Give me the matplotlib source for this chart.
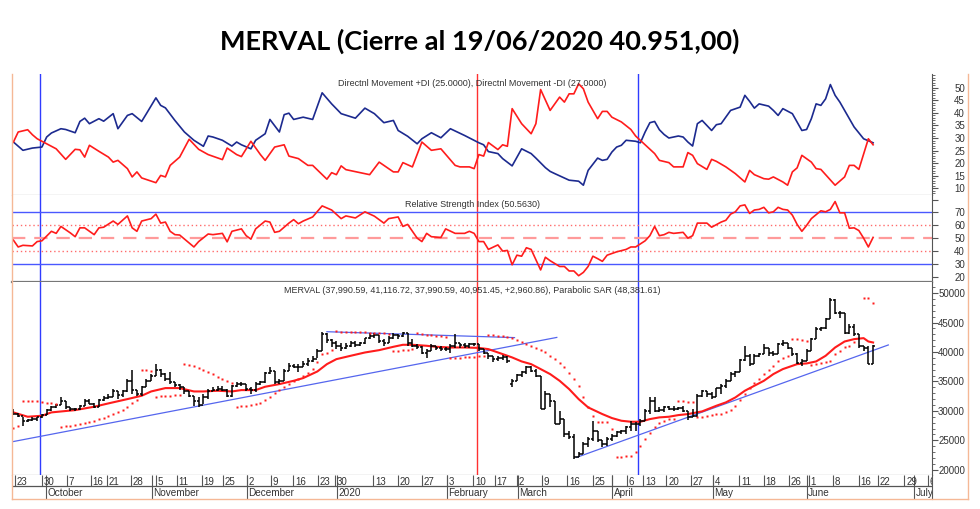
import numpy as np
import matplotlib
matplotlib.use("Agg")
import matplotlib.pyplot as plt
from matplotlib.lines import Line2D
from matplotlib.ticker import MultipleLocator

plt.rcParams['font.family'] = ['Liberation Sans', 'DejaVu Sans']

# ---------------- texts ----------------
title = "MERVAL (Cierre al 19/06/2020 40.951,00)"
di_label = "Directnl Movement +DI (25.0000), Directnl Movement -DI (27.0000)"
rsi_label = "Relative Strength Index (50.5630)"
px_label = ("MERVAL (37,990.59, 41,116.72, 37,990.59, 40,951.45, +2,960.86), "
            "Parabolic SAR (48,381.61)")

# ---------------- daily OHLC (trading-day index 0 = 20 Sep 2019 ... 181 = 19 Jun 2020) ----------------
opens = [30000, 29550, 29150, 28300, 28450, 28700, 28900, 29300, 30150, 30600,
         31050, 31700, 30600, 30300, 30250, 30850, 31700, 31250, 30700, 31850,
         32150, 32400, 33300, 32700, 33300, 35000, 33550, 32850, 34000, 35000,
         35950, 36900, 36250, 35400, 34850, 34400, 34000, 33300, 32550, 31700,
         31050, 32300, 33400, 33550, 33700, 33550, 32550, 34250, 34550, 34650,
         33700, 33550, 34550, 34850, 36350, 36800, 34850, 35100, 36700, 37650,
         37500, 37400, 37950, 38500, 38800, 40200, 43050, 42000, 41600, 41050,
         40750, 41050, 41600, 41200, 41500, 42350, 42750, 42900, 41900, 41600,
         42450, 42900, 42750, 43150, 41600, 41050, 40900, 39900, 40200, 41050,
         40600, 40500, 40500, 41050, 41450, 41200, 41050, 41350, 41350, 40500,
         39900, 39350, 38800, 39050, 39200, 34550, 35100, 36150, 36550, 37400,
         36700, 35950, 30300, 32850, 31700, 27750, 28600, 26050, 25500, 22100,
         22750, 24350, 25200, 26600, 25000, 24350, 25200, 25750, 26350, 26500,
         27200, 27750, 27850, 28300, 30000, 31700, 30000, 30150, 30600, 30400,
         30300, 30450, 30000, 28900, 29150, 32550, 33300, 32850, 32300, 33850,
         34250, 35100, 36250, 36550, 38600, 39350, 37950, 39350, 39650, 40750,
         39900, 39650, 41350, 41450, 40750, 39650, 38050, 38400, 40200, 42200,
         43900, 44050, 45600, 48800, 46700, 46550, 43300, 44300, 43050, 41050,
         40750, 37990.59]
highs = [30300, 29600, 29000, 28600, 28900, 29000, 29450, 30300, 30850, 31150,
         32300, 31750, 30600, 30450, 31050, 32000, 32000, 31300, 32000, 32550,
         32850, 33700, 33350, 33500, 35400, 36900, 33550, 34250, 35400, 36250,
         37950, 37100, 36350, 36550, 34850, 34550, 34050, 33400, 32550, 32300,
         32850, 33700, 34000, 34250, 34250, 33700, 34450, 34850, 34850, 34650,
         34000, 34850, 35100, 36550, 37400, 36800, 35400, 37100, 38050, 37900,
         37950, 38500, 38950, 39350, 40500, 43450, 43300, 42200, 41800, 41450,
         41600, 41900, 41800, 41700, 42450, 43150, 43150, 42900, 42200, 42750,
         43150, 43050, 43450, 43150, 42200, 41350, 41050, 40500, 41350, 41050,
         41050, 40900, 41350, 43050, 41600, 41450, 41600, 41600, 41350, 40500,
         39900, 39350, 39350, 39450, 39300, 35400, 36250, 36700, 37650, 37650,
         37100, 35950, 33300, 32850, 31700, 30000, 28600, 26600, 26050, 22950,
         24650, 25500, 28200, 26600, 25000, 25500, 26050, 26600, 26700, 27450,
         28300, 28050, 28600, 30300, 32300, 32300, 30600, 30850, 30800, 30850,
         30700, 30850, 30000, 30300, 32850, 33550, 33400, 33150, 33950, 34550,
         35400, 36550, 36700, 38800, 41050, 39650, 39650, 39900, 41350, 40750,
         40200, 41600, 42000, 41450, 40750, 39900, 38800, 40500, 42450, 44300,
         44300, 45850, 49150, 49000, 47000, 46700, 44750, 44750, 43050, 41050,
         41050, 41116.72]
lows = [29300, 28900, 27500, 28050, 28200, 28300, 28800, 29250, 30000, 30450,
        31050, 30300, 30000, 29900, 30200, 30850, 31150, 30450, 30700, 31700,
        32000, 32400, 32000, 32300, 33150, 32850, 32550, 32550, 34000, 35000,
        35900, 35700, 35000, 34550, 34000, 33550, 32850, 32300, 30850, 30700,
        31150, 32000, 33300, 33400, 33300, 32300, 32400, 34100, 34250, 33400,
        32850, 33150, 34450, 34800, 36250, 34550, 34550, 35100, 36700, 37300,
        36550, 37400, 37650, 38250, 38950, 40200, 41600, 40800, 40500, 40200,
        40500, 40800, 40900, 41000, 41350, 42200, 42450, 41600, 41050, 41550,
        42200, 42200, 42600, 41050, 40800, 40500, 39650, 39050, 40200, 40300,
        40200, 40200, 39900, 40750, 40750, 40750, 40750, 41050, 40200, 39650,
        38800, 38250, 38500, 38600, 38050, 34100, 35100, 35700, 36250, 36550,
        35700, 30300, 30300, 30600, 27750, 27750, 25500, 25200, 21800, 22100,
        22650, 23800, 24950, 24650, 23800, 24100, 24950, 25500, 26000, 26050,
        26600, 26600, 27450, 28300, 29450, 29750, 29750, 29750, 30100, 30000,
        30150, 29750, 28450, 28900, 28900, 32400, 32300, 32000, 32300, 32850,
        33950, 35100, 35700, 36550, 38500, 37650, 37950, 39200, 39650, 39350,
        39350, 39650, 41050, 40500, 39350, 37950, 37650, 38400, 40200, 42200,
        43600, 43900, 45600, 46450, 45850, 43050, 43050, 42750, 40750, 40200,
        37990.59, 37990.59]
closes = [29550, 29150, 28300, 28450, 28700, 28900, 29300, 30150, 30600, 31050,
          31700, 30600, 30300, 30250, 30850, 31700, 31250, 30700, 31850, 32150,
          32400, 33300, 32700, 33300, 35000, 33550, 32850, 34000, 35000, 35950,
          36900, 36250, 35400, 34850, 34400, 34000, 33300, 32550, 31700, 31050,
          32300, 33400, 33550, 33700, 33550, 32550, 34250, 34550, 34650, 33700,
          33550, 34550, 34850, 36350, 36800, 34850, 35100, 36700, 37650, 37500,
          37400, 37950, 38500, 38800, 40200, 43050, 42000, 41600, 41050, 40750,
          41050, 41600, 41200, 41500, 42350, 42750, 42900, 41900, 41600, 42450,
          42900, 42750, 43150, 41600, 41050, 40900, 39900, 40200, 41050, 40600,
          40500, 40500, 41050, 41450, 41200, 41050, 41350, 41350, 40500, 39900,
          39350, 38800, 39050, 39200, 38500, 35100, 36150, 36550, 37400, 36700,
          35950, 30300, 32850, 31700, 27750, 28600, 26050, 25500, 22100, 22750,
          24350, 25200, 26600, 25000, 24350, 25200, 25750, 26350, 26500, 27200,
          27750, 27850, 28300, 30000, 31700, 30000, 30150, 30600, 30400, 30300,
          30450, 30000, 28900, 29150, 32550, 33300, 32850, 32300, 33850, 34250,
          35100, 36250, 36550, 38600, 39350, 37950, 39350, 39650, 40750, 39900,
          39650, 41350, 41450, 40750, 39650, 38050, 38400, 40200, 42200, 43900,
          44050, 45600, 48800, 46700, 46550, 43300, 44300, 43050, 41050, 40750,
          37990.59, 40951.45]
nan = float('nan')
sar = [27150, 27450, 31750, 31700, 31650, 31600, 31500, 31400, 31300, 31200,
       27300, 27400, 27500, 27650, 27800, 28000, 28150, 28350, 28600, 28850,
       29100, 29450, 29750, 30150, 30700, 31300, 31900, 37000, 36900, 36800,
       32400, 32450, 32500, 32550, 32650, 32750, 37950, 37800, 37600, 37300,
       37000, 36600, 36200, 35800, 35400, 35050, 34800, 30700, 30800, 30870,
       31000, 31200, 31400, 31800, 32300, 33000, 33500, 34000, 34550, 35000,
       35400, 35950, 36500, 37100, 38300, 39600, 39900, 40300, 43500, 43470,
       43440, 43410, 43380, 43350, 43320, 43290, 43260, 43220, 43180, 43140,
       40200, 40250, 40300, 40400, 40450, 43150, 43050, 42950, 42850, 42750,
       42650, 42550, 38950, 39000, 39050, 39100, 39150, 39200, 39300, 39350,
       42900, 42850, 42800, 42700, 42600, 42450, 42000, 41620, 41340, 41060,
       40660, 40320, 39930, 39350, 38800, 38100, 37400, 36500, 35400, 34260,
       32300, 30600, 29200, 28050, 28050, 28050, 26900, 22100, 22150, 22250,
       22400, 22950, 24100, 25200, 26300, 27200, 27900, 28300, 28550, 28700,
       31700, 31600, 31500, 31450, 28900, 29000, 29170, 29300, 29400, 29500,
       29740, 30200, 30900, 31800, 32900, 33900, 34700, 35400, 36200, 36900,
       37600, 38400, 39000, 39400, 42150, 42150, 42050, 41900, 37770, 37890,
       38060, 38230, 38510, 39640, 40210, 40770, 41100, 41620, nan, 49250,
       49150, 48381.61]

# moving average (red line), read at sample days
ma_days = [0, 3, 6, 8, 13, 17, 20, 24, 27, 29, 32, 35, 38, 40, 43, 46, 48, 51, 53, 56,
           59, 61, 64, 66, 68, 71, 74, 77, 80, 82, 84, 87, 89, 92, 95, 98, 100, 102, 105, 107,
           109, 111, 113, 115, 117, 119, 121, 124, 126, 128, 130, 132, 134, 136, 138, 140, 142, 145, 148, 150,
           152, 154, 156, 158, 160, 162, 165, 167, 169, 171, 173, 175, 177, 179, 180, 181]
ma_vals = [29740, 29000, 29170, 29740, 30130, 30700, 31270, 32000, 32570, 33300,
           33870, 33870, 33300, 33300, 33420, 33300, 33530, 33530, 34100, 34550,
           35110, 35570, 36700, 37940, 38790, 39360, 39920, 40320, 40890, 41230,
           41230, 41060, 40890, 40770, 40770, 40700, 40490, 39930, 39080, 38400,
           37940, 37100, 36250, 35110, 33700, 32000, 30590, 29450, 28780, 28320,
           28150, 28150, 28600, 28890, 29000, 29280, 29450, 29910, 30870, 31440,
           32280, 33420, 34270, 35110, 36250, 37100, 37940, 38060, 38400, 39360,
           40770, 41790, 42190, 42360, 41790, 41620]

# Directional movement
pdi_days = [0, 2, 4, 6, 7, 8, 10, 11, 13, 14, 15, 16, 18, 19, 21, 22, 24, 25, 27, 28,
            30, 31, 32, 34, 36, 38, 40, 41, 42, 44, 46, 47, 48, 50, 51, 53, 54, 56, 57, 58,
            59, 61, 63, 65, 67, 69, 72, 74, 76, 78, 80, 81, 83, 85, 86, 88, 90, 92, 95, 98,
            99, 100, 102, 103, 105, 107, 109, 110, 112, 113, 114, 117, 119, 120, 121, 123, 124, 125, 126, 127,
            128, 129, 131, 132, 133, 134, 135, 136, 137, 138, 140, 141, 142, 143, 144, 145, 147, 148, 149, 151,
            153, 154, 155, 156, 157, 159, 160, 161, 162, 164, 166, 167, 168, 169, 170, 171, 172, 173, 174, 176,
            177, 179, 181]
pdi_vals = [28.4, 25.1, 26.0, 26.4, 30.4, 32.0, 33.7, 33.4, 32.1, 36.6,
            37.9, 35.7, 37.7, 36.7, 39.7, 33.7, 39.0, 39.7, 36.6, 39.7,
            46.0, 43.0, 42.0, 37.0, 32.4, 29.1, 26.7, 30.8, 30.4, 29.1,
            26.8, 28.4, 27.3, 25.7, 29.1, 31.7, 37.4, 32.4, 39.3, 39.9,
            37.4, 38.3, 37.4, 48.0, 43.6, 39.7, 37.9, 41.9, 39.7, 36.1,
            37.0, 33.0, 30.7, 27.7, 29.7, 32.1, 30.1, 33.7, 31.0, 28.1,
            27.3, 24.6, 23.8, 21.8, 18.9, 25.7, 23.8, 22.0, 18.2, 16.7,
            15.8, 13.2, 12.8, 11.2, 17.1, 22.0, 21.1, 21.5, 24.4, 26.4,
            27.1, 29.1, 28.7, 28.1, 32.4, 36.1, 36.6, 33.3, 31.4, 30.0,
            30.8, 30.4, 28.4, 26.8, 35.7, 37.0, 33.0, 35.3, 35.7, 41.0,
            42.3, 47.0, 44.6, 41.9, 43.6, 42.7, 41.0, 39.0, 41.7, 39.7,
            33.0, 33.4, 37.7, 43.6, 43.0, 45.6, 51.3, 47.0, 44.3, 37.7,
            34.4, 29.7, 28.1]
mdi_days = [0, 1, 3, 4, 5, 7, 9, 11, 13, 14, 15, 16, 18, 20, 21, 22, 24, 25, 26, 27,
            30, 31, 32, 33, 35, 37, 39, 41, 44, 45, 47, 48, 50, 52, 53, 55, 57, 58, 60, 62,
            63, 66, 67, 68, 69, 70, 73, 75, 77, 79, 80, 81, 82, 84, 86, 88, 90, 93, 94, 96,
            97, 98, 99, 100, 102, 103, 104, 105, 107, 109, 110, 111, 113, 115, 116, 117, 118, 119, 120, 121,
            123, 124, 125, 126, 128, 130, 131, 133, 135, 136, 138, 139, 141, 142, 143, 144, 146, 147, 148, 150,
            152, 154, 155, 156, 158, 159, 160, 162, 163, 164, 165, 166, 168, 169, 170, 173, 175, 176, 177, 178,
            180, 181]
mdi_vals = [28.4, 32.4, 33.3, 31.3, 29.7, 27.7, 25.7, 21.5, 25.5, 25.3,
            22.4, 27.1, 24.7, 22.4, 20.4, 21.1, 17.8, 14.5, 16.5, 14.1,
            12.2, 15.1, 14.5, 19.1, 22.4, 29.5, 25.5, 23.4, 21.4, 26.0,
            23.4, 22.6, 28.7, 23.4, 21.1, 26.4, 27.3, 22.8, 21.8, 19.1,
            19.1, 13.6, 16.2, 15.4, 18.9, 17.4, 16.2, 15.4, 20.4, 17.8,
            16.5, 16.5, 20.2, 18.5, 28.4, 25.1, 25.7, 19.1, 18.5, 18.5,
            17.8, 23.4, 22.8, 28.2, 25.4, 27.3, 26.7, 41.7, 35.7, 31.7,
            35.7, 49.3, 41.0, 46.3, 44.3, 47.6, 47.6, 51.6, 49.6, 44.3,
            37.7, 40.6, 40.6, 38.3, 36.4, 33.4, 30.8, 27.3, 23.8, 21.1,
            20.2, 18.5, 18.5, 24.2, 23.1, 19.8, 17.5, 21.5, 20.7, 18.5,
            15.8, 12.5, 17.1, 15.4, 13.8, 13.6, 14.5, 12.5, 11.2, 16.5,
            18.1, 23.1, 20.4, 17.8, 17.5, 11.2, 14.5, 19.1, 19.1, 17.5,
            29.7, 27.3]

# RSI
rsi_days = [0, 1, 2, 4, 5, 6, 8, 9, 10, 12, 13, 14, 15, 17, 18, 19, 21, 22, 24, 25,
            26, 27, 29, 30, 31, 32, 33, 34, 35, 38, 39, 41, 42, 44, 45, 46, 48, 49, 50, 51,
            53, 54, 55, 56, 58, 59, 60, 61, 63, 65, 67, 69, 70, 72, 74, 76, 78, 79, 81, 82,
            83, 85, 86, 87, 88, 90, 91, 93, 95, 96, 97, 98, 99, 100, 102, 103, 104, 105, 106, 107,
            108, 109, 111, 112, 113, 115, 116, 117, 118, 119, 120, 121, 122, 123, 124, 125, 127, 129, 130, 131,
            133, 134, 135, 136, 137, 138, 139, 141, 142, 143, 144, 146, 147, 149, 150, 151, 152, 153, 154, 155,
            156, 157, 158, 159, 160, 161, 162, 163, 164, 165, 166, 167, 168, 170, 171, 172, 173, 174, 175, 176,
            177, 178, 179, 180, 181]
rsi_vals = [48.4, 43.1, 44.4, 43.9, 47.3, 47.9, 55.3, 53.7, 59.1, 54.0,
            51.1, 58.0, 58.0, 52.7, 58.0, 58.5, 63.3, 60.7, 67.3, 58.0,
            55.3, 63.3, 65.2, 68.7, 61.7, 62.5, 55.3, 52.7, 52.4, 43.1,
            47.3, 53.2, 52.7, 53.7, 47.1, 55.3, 57.2, 51.9, 49.2, 57.2,
            63.3, 62.5, 54.5, 55.3, 61.7, 64.4, 61.2, 63.3, 66.5, 75.1,
            71.9, 65.2, 67.3, 65.7, 70.5, 67.1, 61.7, 65.2, 66.5, 59.1,
            60.7, 50.0, 47.3, 53.7, 51.1, 50.5, 57.2, 53.7, 53.7, 55.3,
            53.7, 47.3, 47.3, 41.2, 44.7, 39.9, 40.4, 29.2, 36.7, 35.9,
            42.5, 41.2, 25.2, 35.1, 32.4, 27.9, 27.9, 24.4, 24.4, 20.7,
            23.3, 27.9, 35.9, 34.0, 31.9, 36.7, 39.3, 41.2, 43.1, 43.1,
            47.9, 51.9, 59.1, 51.9, 52.7, 54.5, 53.7, 54.5, 50.0, 51.9,
            61.7, 61.7, 58.5, 62.5, 63.9, 68.7, 70.5, 75.1, 75.9, 69.2,
            71.9, 72.4, 74.0, 69.7, 70.5, 74.0, 72.4, 71.9, 67.9, 60.7,
            55.3, 59.9, 65.2, 71.3, 70.5, 72.4, 78.5, 69.7, 69.7, 57.7,
            58.0, 55.9, 50.0, 43.1, 50.56]

# trend lines drawn on the price panel: (day0, price0, day1, price1)
trend_lines = [(-0.25, 24750, 114.4, 42480),
               (66.0, 43450, 105.5, 42450),
               (118.6, 22100, 184.2, 41200)]
# vertical marker lines (day, colour)
event_days = [5.7, 97.6, 131.4]
event_colors = ['#2f3cff', '#ff3030', '#2f3cff']

# date axis (tick day-index, label)
day_ticks = [0.34, 6.0, 11.2, 16.3, 19.6, 24.7, 30.0, 34.4, 39.6, 44.1,
             49.1, 54.2, 58.9, 64.1, 67.7, 75.8, 80.9, 86.0, 91.2, 96.8,
             101.4, 106.1, 111.2, 116.6, 122.0, 126.1, 129.1, 132.6, 137.5, 142.6,
             147.3, 152.8, 158.0, 163.3, 167.5, 172.6, 178.0, 182.1, 187.6, 192.6]
day_labels = ['23', '30', '7', '16', '21', '28', '5', '11', '19', '25',
              '2', '9', '16', '23', '30', '13', '20', '27', '3', '10',
              '17', '2', '9', '16', '25', '', '6', '13', '20', '27',
              '4', '11', '18', '26', '1', '8', '16', '22', '29', '6']
month_ticks = [6.8, 29.1, 49.1, 68.1, 91.2, 106.2, 126.1, 147.2, 167.0, 189.7]
month_labels = ['October', 'November', 'December', '2020', 'February',
                'March', 'April', 'May', 'June', 'July']

assert len(opens) == len(highs) == len(lows) == len(closes) == len(sar) == 182
assert len(ma_days) == len(ma_vals)
assert len(pdi_days) == len(pdi_vals) and len(mdi_days) == len(mdi_vals)
assert len(rsi_days) == len(rsi_vals)

# ---------------- figure ----------------
W, H = 980, 510
fig = plt.figure(figsize=(W / 100, H / 100), dpi=100)
XL, XR = 12, 932


def rect(top, bottom):
    return [XL / W, 1 - bottom / H, (XR - XL) / W, (bottom - top) / H]


ax_di = fig.add_axes(rect(75, 196))
ax_rsi = fig.add_axes(rect(196, 283))
ax_px = fig.add_axes(rect(283, 476))
ax_dt = fig.add_axes(rect(476, 500))

xlim = (-0.3, 193.4)
days = np.arange(len(closes))
GRAY = '#555555'
TXT = '#333333'
RED = '#ff1c1c'
NAVY = '#1c2a8f'

for ax in (ax_di, ax_rsi, ax_px, ax_dt):
    ax.set_xlim(*xlim)
    ax.set_xticks([])
    ax.spines['left'].set_visible(False)
    ax.spines['right'].set_color(GRAY)
    ax.spines['top'].set_visible(False)
    ax.spines['bottom'].set_color(GRAY)
    ax.set_facecolor('white')

ax_di.spines['bottom'].set_color('#444444')

# vertical event lines
for a in (ax_di, ax_rsi, ax_px):
    for d, c in zip(event_days, event_colors):
        a.axvline(d, color=c, lw=1.0, zorder=1)


def right_axis(ax, majors, minor=None, fmt='{:d}'):
    ax.yaxis.tick_right()
    ax.set_yticks(majors)
    ax.set_yticklabels([])
    ax.tick_params(axis='y', which='major', direction='out', length=4.5,
                   width=0.8, color=GRAY)
    if minor:
        ax.yaxis.set_minor_locator(MultipleLocator(minor))
        ax.tick_params(axis='y', which='minor', direction='out', length=2.5,
                       width=0.6, color=GRAY)
    tr = ax.get_yaxis_transform()
    lo, hi = ax.get_ylim()
    for v in majors:
        if lo < v < hi:
            ax.text(1.0359, v, fmt.format(v), transform=tr, ha='right',
                    va='center', fontsize=7, color=TXT, clip_on=False)


# ---- DI panel ----
ax_di.set_ylim(7.3, 55.5)
ax_di.plot(pdi_days, pdi_vals, color=NAVY, lw=1.2, zorder=3)
ax_di.plot(mdi_days, mdi_vals, color=RED, lw=1.2, zorder=3)
right_axis(ax_di, list(range(10, 55, 5)), minor=1)
ax_di.text(0.5, 0.931, di_label, transform=ax_di.transAxes, ha='center',
           va='center', fontsize=6.5, color=TXT)

# ---- RSI panel ----
ax_rsi.set_ylim(15.8, 83.6)
ax_rsi.axhline(70, color='#4a58ff', lw=1.0, zorder=2)
ax_rsi.axhline(30, color='#4a58ff', lw=1.0, zorder=2)
ax_rsi.axhline(60, color='#ff6b6b', lw=1.0, ls=(0, (1, 2)), zorder=2)
ax_rsi.axhline(40, color='#ff6b6b', lw=1.0, ls=(0, (1, 2)), zorder=2)
ax_rsi.axhline(50, color='#ff9a9a', lw=1.6, ls=(0, (6, 4)), zorder=2)
ax_rsi.plot(rsi_days, rsi_vals, color=RED, lw=1.2, zorder=3)
right_axis(ax_rsi, list(range(20, 80, 10)))
ax_rsi.set_yticks(list(range(20, 90, 10)))
ax_rsi.set_yticklabels([])
ax_rsi.text(0.5, 0.905, rsi_label, transform=ax_rsi.transAxes, ha='center',
            va='center', fontsize=6.5, color=TXT)
ax_rsi.spines['bottom'].set_color('#777777')
ax_rsi.spines['bottom'].set_linewidth(1.6)

# ---- price panel ----
ax_px.set_ylim(19100, 51900)
for (d0, p0, d1, p1) in trend_lines:
    ax_px.plot([d0, d1], [p0, p1], color='#5566ee', lw=0.9, zorder=2)
ax_px.plot(ma_days, ma_vals, color=RED, lw=1.5, zorder=3)
ax_px.vlines(days, lows, highs, color='black', lw=1.1, zorder=4)
ax_px.hlines(opens, days - 0.45, days, color='black', lw=1.1, zorder=4)
ax_px.hlines(closes, days, days + 0.45, color='black', lw=1.1, zorder=4)
ax_px.plot(days, sar, ls='none', marker='s', ms=1.9, color=RED, mec='none',
           zorder=5)
right_axis(ax_px, list(range(20000, 55000, 5000)), minor=1000)
ax_px.text(0.5, 0.959, px_label, transform=ax_px.transAxes, ha='center',
           va='center', fontsize=6.5, color=TXT)
ax_px.spines['bottom'].set_color('#333333')

# ---- date axis ----
ax_dt.set_ylim(24, 0)
ax_dt.set_yticks([])
ax_dt.spines['bottom'].set_visible(False)
ax_dt.axhline(11, color=GRAY, lw=0.9)
for t, lab in zip(day_ticks, day_labels):
    ax_dt.vlines(t, 0, 11, color=GRAY, lw=0.8)
    if lab:
        ax_dt.text(t + 0.35, 5.8, lab, ha='left', va='center', fontsize=7,
                   color=TXT, clip_on=True)
for t, lab in zip(month_ticks, month_labels):
    ax_dt.vlines(t, 0, 24, color=GRAY, lw=0.8)
    ax_dt.text(t + 0.35, 17.5, lab, ha='left', va='center', fontsize=7.2,
               color=TXT, clip_on=True)

# ---- outer frame (light orange) ----
OR = '#f5b896'
fig.add_artist(Line2D([12.3 / W, 12.3 / W], [1 - 75 / H, 1 - 499.5 / H],
                      color=OR, lw=1.0))
fig.add_artist(Line2D([968 / W, 968 / W], [1 - 75 / H, 1 - 499.5 / H],
                      color=OR, lw=1.0))
fig.add_artist(Line2D([12.3 / W, 968 / W], [1 - 499.5 / H, 1 - 499.5 / H],
                      color=OR, lw=1.0))

# ---- title ----
fig.text(480 / W, 1 - 50 / H, title, ha='center', va='baseline', fontsize=19.5,
         fontweight='bold', family=['Lato', 'DejaVu Sans'], color='black')

fig.savefig('out.png', dpi=100)
